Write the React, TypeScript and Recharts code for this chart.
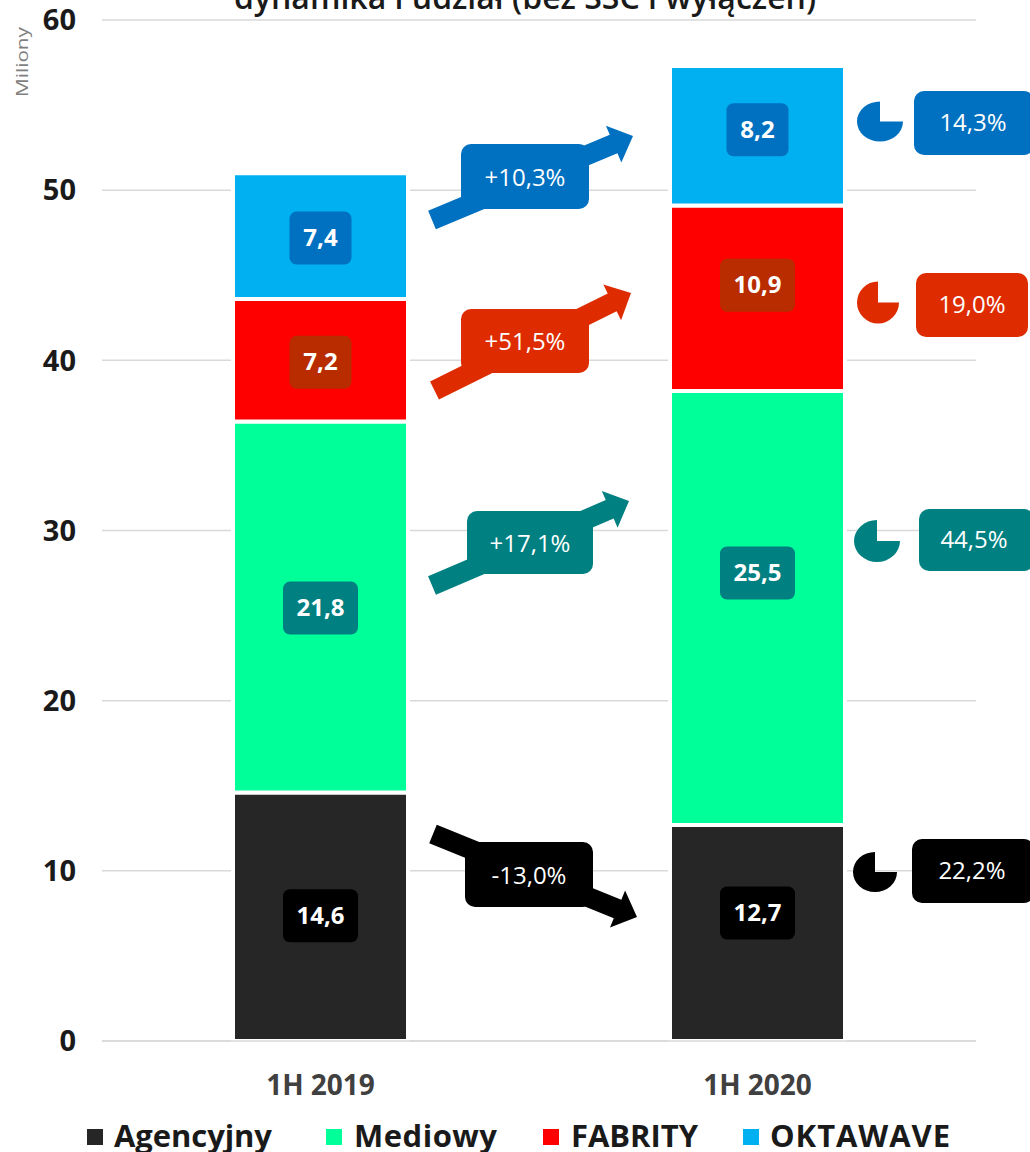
import { BarChart, Bar, XAxis, YAxis, CartesianGrid, LabelList } from "recharts"

const periods = ["1H 2019", "1H 2020"]
const agencyjny = [14.6, 12.7]
const mediowy = [21.8, 25.5]
const fabrity = [7.2, 10.9]
const oktawave = [7.4, 8.2]
const yTicks = [0, 10, 20, 30, 40, 50, 60]

const seriesNames = ["Agencyjny", "Mediowy", "FABRITY", "OKTAWAVE"]
const growthLabels = ["-13,0%", "+17,1%", "+51,5%", "+10,3%"]
const shareLabels = ["22,2%", "44,5%", "19,0%", "14,3%"]

const chartData = periods.map((period, i) => ({
  period,
  agencyjny: agencyjny[i],
  mediowy: mediowy[i],
  fabrity: fabrity[i],
  oktawave: oktawave[i],
}))

const FONT = "'Open Sans', sans-serif"
const BAR_FILLS = ["#262626", "#00FF99", "#FF0000", "#00B0F0"]
const BADGE_FILLS = ["#000000", "#008080", "#B82C00", "#0070C0"]
const NOTE_FILLS = ["#000000", "#008080", "#DE2C00", "#0070C0"]

// vertical nudge of each value badge from its segment centre, per period
const badgeNudge = [
  [-1, -20],
  [1, -35],
  [2, -13],
  [2, -6],
]

// growth arrows with their boxes, bottom series first
const arrowLayout = [
  { from: [433, 834], to: [637, 917], box: [465, 842, 128, 65] },
  { from: [432, 585.5], to: [629, 501], box: [467, 511, 126, 63] },
  { from: [434.5, 390.5], to: [631, 293], box: [461, 309, 128, 64] },
  { from: [432, 220], to: [633, 136], box: [461, 144, 128, 65] },
]

// quarter-cut pie icons and share boxes on the right
const shareLayout = [
  { pie: [875, 872, 22, 20], box: [912, 839, 122, 64], textX: 972 },
  { pie: [877, 541, 23, 21], box: [919, 509, 115, 62], textX: 974 },
  { pie: [878, 302.5, 21, 21], box: [916, 273, 112, 64], textX: 972 },
  { pie: [880, 121.5, 23, 20], box: [914, 91, 120, 64], textX: 973 },
]

const legendLayout = [
  { marker: 87, text: 114, width: 158 },
  { marker: 326, text: 354, width: 143 },
  { marker: 543, text: 571, width: 127 },
  { marker: 743, text: 770, width: 180 },
]

function arrowPoints(from: number[], to: number[]) {
  const [x1, y1] = from
  const [x2, y2] = to
  const len = Math.hypot(x2 - x1, y2 - y1)
  const ux = (x2 - x1) / len
  const uy = (y2 - y1) / len
  const nx = -uy
  const ny = ux
  const neckX = x2 - ux * 21
  const neckY = y2 - uy * 21
  const pts = [
    [x1 + nx * 10, y1 + ny * 10],
    [neckX + nx * 10, neckY + ny * 10],
    [neckX + nx * 20, neckY + ny * 20],
    [x2, y2],
    [neckX - nx * 20, neckY - ny * 20],
    [neckX - nx * 10, neckY - ny * 10],
    [x1 - nx * 10, y1 - ny * 10],
  ]
  return pts.map((p) => p.join(",")).join(" ")
}

function piePath([cx, cy, rx, ry]: number[]) {
  return `M${cx},${cy} L${cx},${cy - ry} A${rx},${ry} 0 1 0 ${cx + rx},${cy} Z`
}

function badgeLabel(series: number) {
  return function BadgeLabel({ x, y, width, height, value, index }: any) {
    const text = Number(value).toFixed(1).replace(".", ",")
    const w = text.length > 3 ? 75 : 62
    const h = 53
    const cx = x + width / 2
    const cy = y + height / 2 + badgeNudge[series][index]
    return (
      <g>
        <rect x={cx - w / 2} y={cy - h / 2} width={w} height={h} rx={7} fill={BADGE_FILLS[series]} />
        <text
          x={cx}
          y={cy + 8}
          textAnchor="middle"
          fontFamily={FONT}
          fontSize={24}
          fontWeight={700}
          fill="#fff"
        >
          {text}
        </text>
      </g>
    )
  }
}

function Notes() {
  return (
    <g fontFamily={FONT} fontSize={24} fill="#fff">
      {arrowLayout.map((a, i) => {
        const [x, y, w, h] = a.box
        return (
          <g key={growthLabels[i]}>
            <polygon points={arrowPoints(a.from, a.to)} fill={NOTE_FILLS[i]} />
            <rect x={x} y={y} width={w} height={h} rx={10} fill={NOTE_FILLS[i]} />
            <text x={x + w / 2} y={y + h / 2 + 9} textAnchor="middle">
              {growthLabels[i]}
            </text>
          </g>
        )
      })}
      {shareLayout.map((s, i) => {
        const [x, y, w, h] = s.box
        return (
          <g key={shareLabels[i]}>
            <path d={piePath(s.pie)} fill={NOTE_FILLS[i]} />
            <rect x={x} y={y} width={w} height={h} rx={10} fill={NOTE_FILLS[i]} />
            <text x={s.textX} y={y + h / 2 + 8} textAnchor="middle">
              {shareLabels[i]}
            </text>
          </g>
        )
      })}
    </g>
  )
}

function SeriesLegend() {
  return (
    <g fontFamily={FONT} fontSize={31} fontWeight={700} fill="#1a1a1a">
      {seriesNames.map((name, i) => (
        <g key={name}>
          <rect x={legendLayout[i].marker} y={1129} width={16} height={16} fill={BAR_FILLS[i]} />
          <text x={legendLayout[i].text} y={1147} textLength={legendLayout[i].width}>
            {name}
          </text>
        </g>
      ))}
    </g>
  )
}

export default function App() {
  return (
    <div style={{ position: "absolute", left: 0, top: 0, width: 1030, height: 1152, overflow: "hidden", background: "#fff" }}>
      <BarChart
        width={1030}
        height={1152}
        data={chartData}
        barSize={175}
        margin={{ top: 20, right: 54, bottom: 0, left: 0 }}
      >
        <CartesianGrid vertical={false} stroke="#D9D9D9" strokeWidth={1.5} />
        <XAxis
          dataKey="period"
          height={111}
          tickLine={false}
          axisLine={{ stroke: "#D9D9D9", strokeWidth: 1.5 }}
          tickMargin={28}
          tick={{ fontFamily: FONT, fontSize: 28, fontWeight: 700, fill: "#404040" }}
        />
        <YAxis
          width={102}
          domain={[0, 60]}
          ticks={yTicks}
          tickLine={false}
          axisLine={false}
          tickMargin={20}
          tick={{ fontFamily: FONT, fontSize: 29, fontWeight: 700, fill: "#1a1a1a" }}
        />
        <Bar dataKey="agencyjny" stackId="a" fill={BAR_FILLS[0]} stroke="#fff" strokeWidth={4} isAnimationActive={false}>
          <LabelList dataKey="agencyjny" content={badgeLabel(0)} />
        </Bar>
        <Bar dataKey="mediowy" stackId="a" fill={BAR_FILLS[1]} stroke="#fff" strokeWidth={4} isAnimationActive={false}>
          <LabelList dataKey="mediowy" content={badgeLabel(1)} />
        </Bar>
        <Bar dataKey="fabrity" stackId="a" fill={BAR_FILLS[2]} stroke="#fff" strokeWidth={4} isAnimationActive={false}>
          <LabelList dataKey="fabrity" content={badgeLabel(2)} />
        </Bar>
        <Bar dataKey="oktawave" stackId="a" fill={BAR_FILLS[3]} stroke="#fff" strokeWidth={4} isAnimationActive={false}>
          <LabelList dataKey="oktawave" content={badgeLabel(3)} />
        </Bar>
        <text x={525} y={9} textAnchor="middle" fontFamily={FONT} fontSize={32} fontWeight={600} fill="#1a1a1a">
          dynamika i udział (bez SSC i wyłączeń)
        </text>
        <text
          transform="translate(28,97) rotate(-90)"
          fontFamily={FONT}
          fontSize={17}
          fill="#7f7f7f"
          textLength={70}
          lengthAdjust="spacingAndGlyphs"
        >
          Miliony
        </text>
        <Notes />
        <SeriesLegend />
      </BarChart>
    </div>
  )
}
